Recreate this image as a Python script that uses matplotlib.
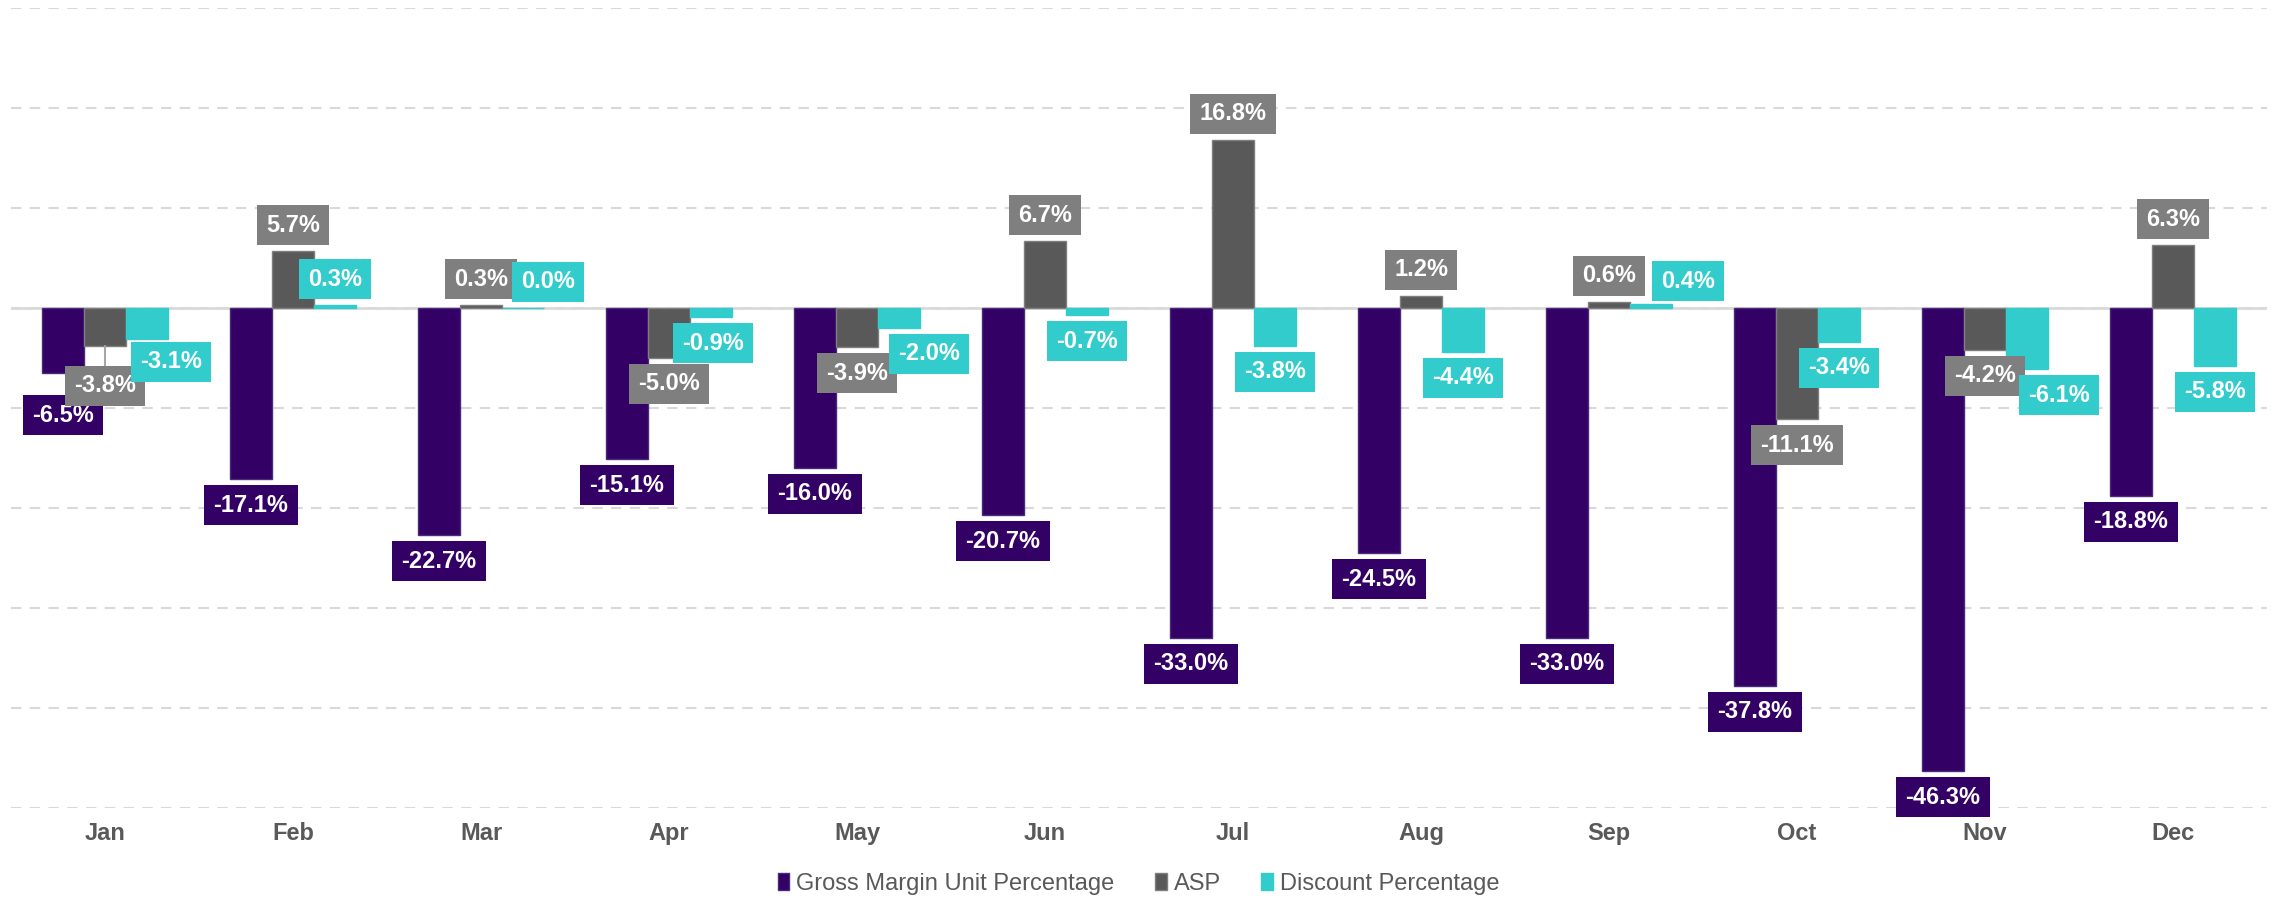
import numpy as np
import matplotlib
matplotlib.use("Agg")
import matplotlib.pyplot as plt
from matplotlib.patches import Patch
from matplotlib.path import Path

plt.rcParams['font.family'] = ['Liberation Sans', 'DejaVu Sans']

months = ['Jan', 'Feb', 'Mar', 'Apr', 'May', 'Jun', 'Jul', 'Aug', 'Sep', 'Oct', 'Nov', 'Dec']
gross_margin = [-6.5, -17.1, -22.7, -15.1, -16.0, -20.7, -33.0, -24.5, -33.0, -37.8, -46.3, -18.8]
asp = [-3.8, 5.7, 0.3, -5.0, -3.9, 6.7, 16.8, 1.2, 0.6, -11.1, -4.2, 6.3]
discount = [-3.1, 0.3, 0.0, -0.9, -2.0, -0.7, -3.8, -4.4, 0.4, -3.4, -6.1, -5.8]
series_names = ['Gross Margin Unit Percentage', 'ASP', 'Discount Percentage']

bar_colors = ['#330066', '#595959', '#33CCCC']
label_colors = ['#330066', '#7F7F7F', '#33CCCC']
edge_colors = ['#4a2a7a', '#7F7F7F', '#33CCCC']

# label nudges (pixels) where excel moved labels to avoid overlap
nudge = {
    (0, 0): (0, 16), (1, 0): (0, 14), (2, 0): (24, -3),
    (2, 2): (25, 0), (2, 3): (2, 0), (2, 4): (30, 0),
    (2, 8): (37, -3), (2, 10): (32, 0),
}


def label_box(x0, y0, width, height, mutation_size):
    # wider horizontal padding than vertical, like excel data labels
    px_ = 0.4 * mutation_size
    py_ = 0.35 * mutation_size
    l, b, r, t = x0 - px_, y0 - py_, x0 + width + px_, y0 + height + py_
    return Path([(l, b), (r, b), (r, t), (l, t), (l, b)], closed=True)


fig = plt.figure(figsize=(22.77, 9), dpi=100)
ax = fig.add_axes([11 / 2277, 92 / 900, 2256 / 2277, 800 / 900])

x = np.arange(len(months))
w = 0.2234
data = [gross_margin, asp, discount]
for i, vals in enumerate(data):
    ax.bar(x + (i - 1) * w, vals, width=w, color=bar_colors[i], edgecolor=edge_colors[i],
           linewidth=1, zorder=3)

px = 0.72  # points per pixel at dpi 100
for i, vals in enumerate(data):
    for j, v in enumerate(vals):
        dx, dy = nudge.get((i, j), (0, 0))
        off = 26 + dy
        sign = 1 if v >= 0 else -1
        kw = {}
        if i == 1 and j == 0:
            kw['arrowprops'] = dict(arrowstyle='-', color='#A6A6A6', lw=1.5, shrinkA=0, shrinkB=0)
        ax.annotate('%.1f%%' % v, xy=(x[j] + (i - 1) * w, v),
                    xytext=(dx * px, sign * off * px), textcoords='offset points',
                    ha='center', va='center', fontsize=17, fontweight='bold', color='white',
                    bbox=dict(boxstyle=label_box, fc=label_colors[i], ec='none'),
                    zorder=5, **kw)

ax.set_xlim(-0.5, len(months) - 0.5)
ax.set_ylim(-50, 30)
ax.set_yticks(np.arange(-50, 31, 10))
ax.set_yticklabels([])
ax.tick_params(axis='y', length=0)
ax.grid(axis='y', color='#D9D9D9', linestyle=(0, (5, 4)), linewidth=1.5, zorder=0)
ax.axhline(0, color='#D9D9D9', linewidth=2, zorder=2)
for s in ax.spines.values():
    s.set_visible(False)

ax.set_xticks(x)
ax.set_xticklabels(months, fontsize=17, fontweight='bold', color='#595959')
ax.tick_params(axis='x', length=0, pad=10)

handles = [Patch(facecolor=bar_colors[i], edgecolor=edge_colors[i]) for i in range(3)]
fig.legend(handles, series_names, loc='center', bbox_to_anchor=(0.5, 16 / 900), ncol=3,
           frameon=False, fontsize=17, labelcolor='#595959', handlelength=0.5,
           handleheight=0.7, handletextpad=0.3, columnspacing=1.7)

plt.savefig('out.png', dpi=100)
